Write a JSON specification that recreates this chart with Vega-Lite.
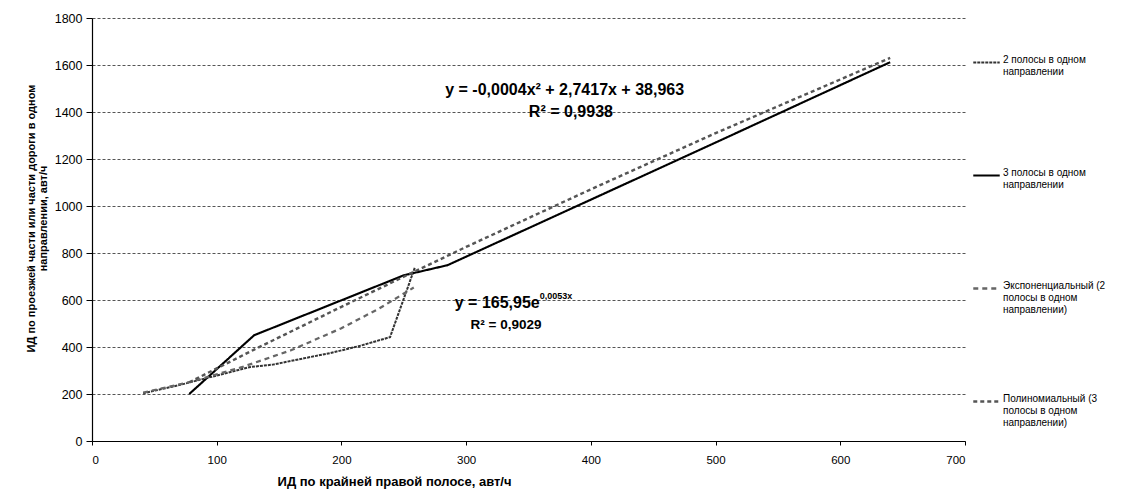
{
  "$schema": "https://vega.github.io/schema/vega-lite/v6.json",
  "width": 873,
  "height": 423,
  "autosize": {"type": "none"},
  "padding": {"left": 92, "top": 18, "right": 181, "bottom": 54},
  "background": "white",
  "config": {
    "font": "Liberation Sans",
    "view": {"stroke": null},
    "axis": {"domainColor": "black", "tickColor": "black", "labelColor": "black", "titleColor": "black", "labelFont": "Liberation Sans", "titleFont": "Liberation Sans"}
  },
  "datasets": {
    "series": [
      {"series": "2 полосы в одном направлении", "x": 41, "y": 203},
      {"series": "2 полосы в одном направлении", "x": 70, "y": 238},
      {"series": "2 полосы в одном направлении", "x": 95, "y": 272},
      {"series": "2 полосы в одном направлении", "x": 127, "y": 315},
      {"series": "2 полосы в одном направлении", "x": 145, "y": 325},
      {"series": "2 полосы в одном направлении", "x": 170, "y": 352},
      {"series": "2 полосы в одном направлении", "x": 191, "y": 374},
      {"series": "2 полосы в одном направлении", "x": 215, "y": 405},
      {"series": "2 полосы в одном направлении", "x": 239, "y": 442},
      {"series": "2 полосы в одном направлении", "x": 259, "y": 740},
      {"series": "3 полосы в одном направлении", "x": 78, "y": 200},
      {"series": "3 полосы в одном направлении", "x": 130, "y": 450},
      {"series": "3 полосы в одном направлении", "x": 250, "y": 705},
      {"series": "3 полосы в одном направлении", "x": 285, "y": 748},
      {"series": "3 полосы в одном направлении", "x": 400, "y": 1027},
      {"series": "3 полосы в одном направлении", "x": 500, "y": 1270},
      {"series": "3 полосы в одном направлении", "x": 640, "y": 1612},
      {"series": "Экспоненциальный (2 полосы в одном направлении)", "x": 41, "y": 206},
      {"series": "Экспоненциальный (2 полосы в одном направлении)", "x": 80, "y": 253},
      {"series": "Экспоненциальный (2 полосы в одном направлении)", "x": 120, "y": 314},
      {"series": "Экспоненциальный (2 полосы в одном направлении)", "x": 160, "y": 387},
      {"series": "Экспоненциальный (2 полосы в одном направлении)", "x": 200, "y": 480},
      {"series": "Экспоненциальный (2 полосы в одном направлении)", "x": 230, "y": 563},
      {"series": "Экспоненциальный (2 полосы в одном направлении)", "x": 258, "y": 653},
      {"series": "Полиномиальный (3 полосы в одном направлении)", "x": 78, "y": 250},
      {"series": "Полиномиальный (3 полосы в одном направлении)", "x": 130, "y": 389},
      {"series": "Полиномиальный (3 полосы в одном направлении)", "x": 200, "y": 571},
      {"series": "Полиномиальный (3 полосы в одном направлении)", "x": 250, "y": 699},
      {"series": "Полиномиальный (3 полосы в одном направлении)", "x": 300, "y": 826},
      {"series": "Полиномиальный (3 полосы в одном направлении)", "x": 400, "y": 1071},
      {"series": "Полиномиальный (3 полосы в одном направлении)", "x": 500, "y": 1310},
      {"series": "Полиномиальный (3 полосы в одном направлении)", "x": 640, "y": 1630}
    ]
  },
  "layer": [
    {
      "data": {"name": "series"},
      "mark": {"type": "line", "clip": true},
      "encoding": {
        "x": {
          "field": "x", "type": "quantitative",
          "scale": {"domain": [0, 700], "nice": false},
          "axis": {
            "values": [0, 100, 200, 300, 400, 500, 600, 700],
            "format": "d",
            "grid": false, "tickSize": 4, "labelFontSize": 11.5, "labelPadding": 9,
            "domainWidth": 1.2,
            "title": "ИД по крайней правой полосе, авт/ч",
            "titleFontSize": 13, "titleFontWeight": "bold",
            "titleX": 302, "titleY": 34
          }
        },
        "y": {
          "field": "y", "type": "quantitative",
          "scale": {"domain": [0, 1800], "nice": false},
          "axis": {
            "values": [0, 200, 400, 600, 800, 1000, 1200, 1400, 1600, 1800],
            "format": "d",
            "grid": true, "gridDash": [3, 2], "gridColor": "#555", "gridWidth": 1,
            "tickSize": 6, "labelFontSize": 12.5, "labelPadding": 4,
            "domainWidth": 1.2,
            "title": ["ИД по проезжей части или части дороги в одном", "направлении, авт/ч"],
            "titleFontSize": 11, "titleFontWeight": "bold", "titleLineHeight": 12,
            "titleX": -56, "titleY": 200
          }
        },
        "color": {
          "field": "series", "type": "nominal",
          "scale": {
            "domain": ["2 полосы в одном направлении", "3 полосы в одном направлении", "Экспоненциальный (2 полосы в одном направлении)", "Полиномиальный (3 полосы в одном направлении)"],
            "range": ["#333333", "#000000", "#666666", "#555555"]
          },
          "legend": {
            "orient": "none", "legendX": 880, "legendY": 30,
            "title": null, "symbolType": "stroke", "symbolSize": 700,
            "symbolStrokeWidth": 1.5,
            "labelFontSize": 10, "labelFont": "Liberation Sans", "labelColor": "black",
            "labelLimit": 0, "labelOffset": 2, "labelBaseline": "alphabetic",
            "rowPadding": 72,
            "labelExpr": "datum.label == '2 полосы в одном направлении' ? ['2 полосы в одном', 'направлении', ' '] : datum.label == '3 полосы в одном направлении' ? ['3 полосы в одном', 'направлении', ' '] : datum.label == 'Экспоненциальный (2 полосы в одном направлении)' ? ['Экспоненциальный (2', 'полосы в одном', 'направлении)'] : ['Полиномиальный (3', 'полосы в одном', 'направлении)']"
          }
        },
        "strokeDash": {
          "field": "series", "type": "nominal",
          "scale": {
            "domain": ["2 полосы в одном направлении", "3 полосы в одном направлении", "Экспоненциальный (2 полосы в одном направлении)", "Полиномиальный (3 полосы в одном направлении)"],
            "range": [[3, 1], [1, 0], [5, 4], [4, 3]]
          }
        },
        "strokeWidth": {
          "field": "series", "type": "nominal",
          "scale": {
            "domain": ["2 полосы в одном направлении", "3 полосы в одном направлении", "Экспоненциальный (2 полосы в одном направлении)", "Полиномиальный (3 полосы в одном направлении)"],
            "range": [2, 2.4, 1.3, 1.3]
          }
        }
      }
    },
    {
      "mark": {"type": "rule", "color": "black", "strokeWidth": 1.5},
      "encoding": {"x": {"datum": 700, "type": "quantitative"}}
    },
    {
      "data": {"values": [
        {"x": 379, "y": 1494, "text": "y = -0,0004x² + 2,7417x + 38,963"},
        {"x": 384, "y": 1400, "text": "R² = 0,9938"}
      ]},
      "mark": {"type": "text", "font": "Liberation Sans", "fontSize": 16, "fontWeight": "bold", "color": "black", "align": "center", "baseline": "middle"},
      "encoding": {
        "x": {"field": "x", "type": "quantitative"},
        "y": {"field": "y", "type": "quantitative"},
        "text": {"field": "text"}
      }
    },
    {
      "data": {"values": [
        {"x": 332, "y": 494, "text": "R² = 0,9029"}
      ]},
      "mark": {"type": "text", "font": "Liberation Sans", "fontSize": 13.5, "fontWeight": "bold", "color": "black", "align": "center", "baseline": "middle"},
      "encoding": {
        "x": {"field": "x", "type": "quantitative"},
        "y": {"field": "y", "type": "quantitative"},
        "text": {"field": "text"}
      }
    },
    {
      "data": {"values": [
        {"x": 359, "y": 587, "text": "y = 165,95e"}
      ]},
      "mark": {"type": "text", "font": "Liberation Sans", "fontSize": 16, "fontWeight": "bold", "color": "black", "align": "right", "baseline": "middle"},
      "encoding": {
        "x": {"field": "x", "type": "quantitative"},
        "y": {"field": "y", "type": "quantitative"},
        "text": {"field": "text"}
      }
    },
    {
      "data": {"values": [
        {"x": 359, "y": 615, "text": "0,0053x"}
      ]},
      "mark": {"type": "text", "font": "Liberation Sans", "fontSize": 9, "fontWeight": "bold", "color": "black", "align": "left", "baseline": "middle"},
      "encoding": {
        "x": {"field": "x", "type": "quantitative"},
        "y": {"field": "y", "type": "quantitative"},
        "text": {"field": "text"}
      }
    }
  ]
}
